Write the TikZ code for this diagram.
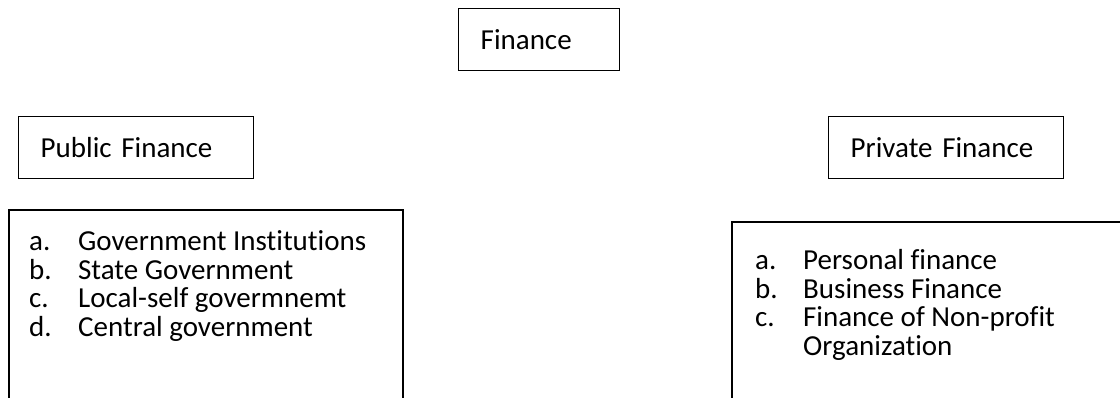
\documentclass[tikz,border=0pt]{standalone}
\usepackage{fontspec}
\setmainfont{Carlito}[Ligatures={NoCommon,NoContextual}]
\usepackage{tikz}

\tikzset{
    headbox/.style={draw, line width=1.4pt, inner xsep=22pt, inner ysep=0pt,
        minimum height=62pt, align=left, anchor=north west,
        font=\fontsize{29}{34}\selectfont},
    listitem/.style={inner sep=0pt, anchor=base west,
        font=\fontsize{29}{34}\selectfont}
}

\begin{document}
\begin{tikzpicture}[x=1pt,y=1pt]
        \useasboundingbox (0,0) rectangle (1120,398);
        \node[headbox, text width=117pt] (fin) at (458,390) {Finance};
        \node[headbox, text width=191pt] (pub) at (18,282) {Public Finance};
        \node[headbox, text width=191pt] (priv) at (828,282) {Private Finance};
        \draw[line width=1.4pt] (9,0) |- (403,188) -- (403,0);
        \draw[line width=1.4pt] (732,0) |- (1120,176);
        \foreach \lbl/\txt [count=\i] in {a./Government Institutions, b./State Government, c./Local-self govermnemt, d./Central government}
            \node[listitem] (publist\i) at (29,{147-28.5*(\i-1)}) {\makebox[49pt][l]{\lbl}\txt};
        \foreach \lbl/\txt [count=\i] in {a./Personal finance, b./Business Finance, c./Finance of Non-profit, /Organization}
            \node[listitem] (privlist\i) at (755,{128-28.5*(\i-1)}) {\makebox[48pt][l]{\lbl}\txt};
    \end{tikzpicture}
\end{document}
